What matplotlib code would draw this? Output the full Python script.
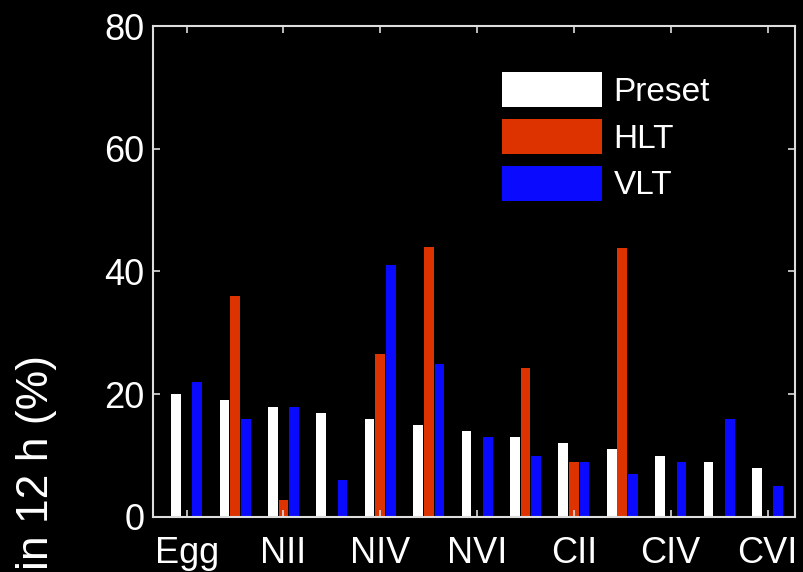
import numpy as np
import matplotlib
matplotlib.use("Agg")
import matplotlib.pyplot as plt

# copepod stages, only every other one gets a label
stages = ["Egg", "NI", "NII", "NIII", "NIV", "NV", "NVI",
          "CI", "CII", "CIII", "CIV", "CV", "CVI"]
labelled = ["Egg", "NII", "NIV", "NVI", "CII", "CIV", "CVI"]

# percent per stage in 12 h (nan = no bar)
preset = [20, 19, 18, 17, 16, 15, 14, 13, 12, 11, 10, 9, 8]
hlt = [np.nan, 36, 2.8, np.nan, 26.5, 44, np.nan, 24.2, 9, 43.8, np.nan, np.nan, np.nan]
vlt = [22, 16, 18, 6, 41, 25, 13, 10, 9, 7, 9, 16, 5]

plt.rcParams["font.family"] = ["Liberation Sans", "DejaVu Sans"]

fig = plt.figure(figsize=(8.04, 5.72), dpi=100, facecolor="black")
ax = fig.add_axes([0.190, 0.0962, 0.799, 0.8583], facecolor="black")

x = np.arange(len(stages))
w = 0.2
ax.bar(x - 0.22, preset, w, color="white", label="Preset")
ax.bar(x, hlt, w, color="#dd3300", label="HLT")
ax.bar(x + 0.22, vlt, w, color="#0a0aff", label="VLT")

ax.set_xlim(-0.7, 12.57)
ax.set_ylim(0, 80)
ax.set_yticks([0, 20, 40, 60, 80])
ax.set_xticks([stages.index(s) for s in labelled])
ax.set_xticklabels(labelled)

axis_col = "#dddddd"
for sp in ax.spines.values():
    sp.set_color(axis_col)
    sp.set_linewidth(1.5)
ax.tick_params(direction="in", length=5, width=1.2, color=axis_col,
               top=True, right=True, labelcolor="white", labelsize=26)
ax.tick_params(axis="y", pad=6)
ax.tick_params(axis="x", pad=14)

fig.text(37 / 804, 1 - 355 / 572, "in 12 h (%)", rotation=90,
         rotation_mode="anchor", ha="right", va="center",
         color="white", fontsize=32)

leg = ax.legend(loc="upper left", bbox_to_anchor=(502 / 804, 1 - 72 / 572),
                bbox_transform=fig.transFigure, frameon=False, fontsize=24,
                handlelength=3.0, handleheight=1.25, labelspacing=0.33,
                handletextpad=0.35, borderpad=0, borderaxespad=0)
for t in leg.get_texts():
    t.set_color("white")

fig.savefig("out.png", dpi=100, facecolor="black")
